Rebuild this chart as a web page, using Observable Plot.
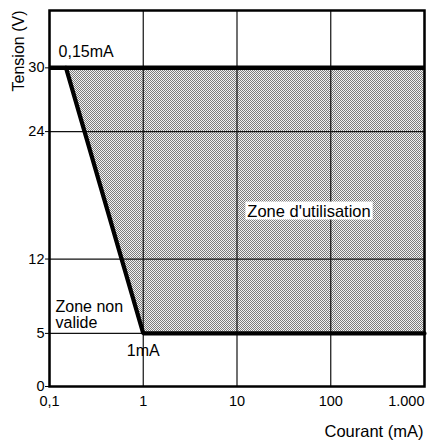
<!DOCTYPE html>
<html>
<head>
<meta charset="utf-8">
<script src="https://cdn.jsdelivr.net/npm/d3@7"></script>
<script src="https://cdn.jsdelivr.net/npm/@observablehq/plot@0.6"></script>
<style>
  html, body { margin: 0; padding: 0; background: #fff; }
  svg { display: block; }
</style>
</head>
<body>
<div id="chart"></div>
<script>
// ---- data ----
const boundaryCurrent = [0.15, 1, 1000];   // mA, lower-left boundary of the usage zone
const boundaryVoltage = [30, 5, 5];        // V
const maxVoltage = 30;                     // V, upper limit
const xTicks = [0.1, 1, 10, 100, 1000];
const xTickLabels = ["0,1", "1", "10", "100", "1.000"];
const yTicks = [0, 5, 12, 24, 30];
const noteTexts = ["0,15mA", "Zone non\nvalide", "1mA", "Zone d'utilisation"];
const noteCurrent = [0.125, 0.116, 1, 12.9];
const noteVoltage = [31.5, 6.7, 3.4, 16.5];

const zone = boundaryCurrent.map((c, i) => ({x: c, y1: boundaryVoltage[i], y2: maxVoltage}));
const boundary = boundaryCurrent.map((c, i) => ({x: c, y: boundaryVoltage[i]}));
const notes = noteTexts.map((t, i) => ({t, x: noteCurrent[i], y: noteVoltage[i]}));
const labelOf = new Map(xTicks.map((v, i) => [v, xTickLabels[i]]));

const font = "'Liberation Sans', Arial, Helvetica, sans-serif";

const chart = Plot.plot({
  width: 429,
  height: 443,
  marginTop: 10,
  marginRight: 5,
  marginBottom: 57,
  marginLeft: 49,
  style: {fontFamily: font, fontSize: "14px", color: "#000", background: "#fff"},
  x: {type: "log", domain: [0.1, 1000]},
  y: {domain: [0, 35.4]},
  marks: [
    Plot.areaY(zone, {x: "x", y1: "y1", y2: "y2", fill: "url(#dither)"}),
    Plot.gridX(xTicks, {stroke: "#111", strokeOpacity: 1, strokeWidth: 1.2}),
    Plot.gridY(yTicks, {stroke: "#111", strokeOpacity: 1, strokeWidth: 1.2}),
    Plot.ruleY([maxVoltage], {stroke: "#000", strokeWidth: 4.5}),
    Plot.line(boundary, {x: "x", y: "y", stroke: "#000", strokeWidth: 4.2, strokeLinejoin: "miter"}),
    Plot.frame({stroke: "#000", strokeWidth: 2.5}),
    Plot.axisY(yTicks, {tickSize: 4, tickPadding: 1, fontSize: 14.5, label: null}),
    Plot.axisX(xTicks.slice(0, 4), {tickSize: 0, tickPadding: 9, fontSize: 14.5, label: null,
      tickFormat: d => labelOf.get(d)}),
    Plot.axisX([1000], {tickSize: 0, tickPadding: 9, fontSize: 14.5, label: null, textAnchor: "end",
      tickFormat: d => labelOf.get(d)}),
    Plot.text(["Tension (V)"], {frameAnchor: "top-left", rotate: -90, textAnchor: "end",
      dx: -37, fontSize: 16}),
    Plot.text(["Courant (mA)"], {frameAnchor: "bottom-right", textAnchor: "end", dy: 50, dx: -1, fontSize: 16.5}),
    Plot.text(notes.filter(d => d.t !== "1mA" && d.t !== "Zone d'utilisation"),
      {x: "x", y: "y", text: "t", textAnchor: "start", fontSize: 16, lineHeight: 1.0}),
    Plot.text(notes.filter(d => d.t === "1mA"), {x: "x", y: "y", text: "t", textAnchor: "middle", fontSize: 16}),
    Plot.text(notes.filter(d => d.t === "Zone d'utilisation"),
      {x: "x", y: "y", text: "t", textAnchor: "start", fontSize: 16.5, className: "zu"})
  ]
});

document.getElementById("chart").appendChild(chart);

// dither pattern definition
const ns = "http://www.w3.org/2000/svg";
const defs = document.createElementNS(ns, "defs");
defs.innerHTML = `<pattern id="dither" width="2" height="2" patternUnits="userSpaceOnUse">
  <rect width="2" height="2" fill="#f2f2f2"/>
  <rect x="0" y="0" width="1" height="1" fill="#7c7c7c"/>
  <rect x="1" y="1" width="1" height="1" fill="#7c7c7c"/>
</pattern>`;
chart.insertBefore(defs, chart.firstChild);

// white box behind "Zone d'utilisation"
const zu = chart.querySelector("g.zu");
if (zu) {
  const b = zu.getBBox();
  const r = document.createElementNS(ns, "rect");
  r.setAttribute("x", b.x - 2);
  r.setAttribute("y", b.y);
  r.setAttribute("width", b.width + 4);
  r.setAttribute("height", b.height);
  r.setAttribute("fill", "#fff");
  zu.insertBefore(r, zu.firstChild);
}
</script>
</body>
</html>
